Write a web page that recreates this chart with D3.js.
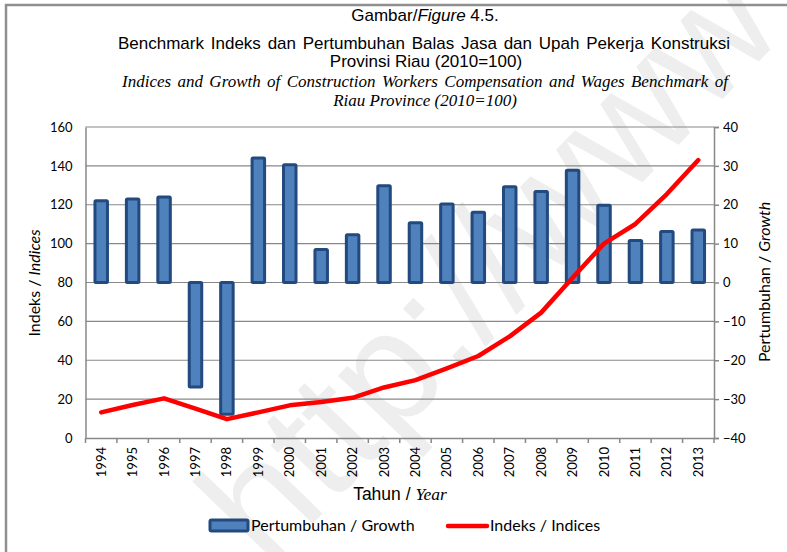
<!DOCTYPE html>
<html>
<head>
<meta charset="utf-8">
<script src="https://cdn.jsdelivr.net/npm/d3@7"></script>
<style>
  body { margin: 0; background: #fff; }
  svg { display: block; }
</style>
</head>
<body>
<svg id="chart" width="787" height="552"></svg>
<script>
// data
const years = ["1994","1995","1996","1997","1998","1999","2000","2001","2002","2003",
               "2004","2005","2006","2007","2008","2009","2010","2011","2012","2013"];
const growth = [21.0, 21.5, 22.0, -26.9, -33.9, 32.0, 30.3, 8.5, 12.3, 24.9,
                15.4, 20.2, 18.1, 24.6, 23.4, 28.9, 19.9, 10.8, 13.1, 13.5];
const indices = [13.2, 17.0, 20.4, 15.1, 9.7, 13.2, 16.8, 18.5, 20.7, 26.0,
                 29.8, 35.8, 42.2, 52.3, 64.5, 82.5, 100.0, 110.1, 125.5, 143.0];
const leftTicks = [0, 20, 40, 60, 80, 100, 120, 140, 160];
const rightTicks = [-40, -30, -20, -10, 0, 10, 20, 30, 40];

const sans = "Lato, 'Open Sans', sans-serif";
const arial = "'Liberation Sans', Arial, sans-serif";
const serif = "'Liberation Serif', 'Times New Roman', serif";

const svg = d3.select("#chart");
const plot = { left: 85.5, right: 714, top: 127, bottom: 438 };

// watermark (faint, behind everything)
svg.append("text")
    .attr("transform", "translate(268,570) rotate(-46)")
    .attr("font-family", arial)
    .attr("font-size", 160)
    .attr("fill", "#eeeeee")
    .text("http://www");

// outer frame
svg.append("rect")
    .attr("x", 6).attr("y", 5)
    .attr("width", 900).attr("height", 700)
    .attr("fill", "none")
    .attr("stroke", "#8f8f8f")
    .attr("stroke-width", 2.5);

// title
const title = svg.append("g").attr("font-family", arial).attr("font-size", 17)
    .attr("text-anchor", "middle").attr("fill", "#000");
const t1 = title.append("text").attr("x", 425).attr("y", 21);
t1.append("tspan").text("Gambar/");
t1.append("tspan").attr("font-style", "italic").text("Figure");
t1.append("tspan").text(" 4.5.");

function spreadWords(sel, target) {
    const w = sel.node().getComputedTextLength();
    const spaces = sel.text().split(" ").length - 1;
    if (w < target) sel.attr("word-spacing", (target - w) / spaces);
}
const t2 = title.append("text").attr("x", 424).attr("y", 49)
    .text("Benchmark Indeks dan Pertumbuhan Balas Jasa dan Upah Pekerja Konstruksi");
spreadWords(t2, 612);
title.append("text").attr("x", 426).attr("y", 67).text("Provinsi  Riau (2010=100)");
const t4 = title.append("text").attr("x", 425).attr("y", 87)
    .attr("font-family", serif).attr("font-style", "italic").attr("font-size", 17)
    .text("Indices and Growth of Construction Workers Compensation and Wages Benchmark of");
spreadWords(t4, 606);
title.append("text").attr("x", 425).attr("y", 106)
    .attr("font-family", serif).attr("font-style", "italic").attr("font-size", 17)
    .text("Riau Province (2010=100)");

// scales
const x = d3.scaleBand().domain(years).range([plot.left, plot.right]);
const yL = d3.scaleLinear().domain([0, 160]).range([plot.bottom, plot.top]);
const yR = d3.scaleLinear().domain([-40, 40]).range([plot.bottom, plot.top]);

// gridlines
svg.append("g").selectAll("line")
    .data(leftTicks.filter(d => d > 0))
    .join("line")
    .attr("x1", plot.left).attr("x2", plot.right)
    .attr("y1", d => yL(d)).attr("y2", d => yL(d))
    .attr("stroke", "#888").attr("stroke-width", 1.2);

// left axis
const axL = svg.append("g")
    .attr("transform", `translate(${plot.left},0)`)
    .call(d3.axisLeft(yL).tickValues(leftTicks).tickSize(0).tickPadding(13));
axL.select(".domain").attr("stroke", "#888").attr("stroke-width", 1.5);
axL.selectAll("text").attr("font-family", sans).attr("font-size", 13).attr("fill", "#000");

// right axis
const axR = svg.append("g")
    .attr("transform", `translate(${plot.right},0)`)
    .call(d3.axisRight(yR).tickValues(rightTicks).tickSize(5).tickPadding(4));
axR.select(".domain").attr("stroke", "#888").attr("stroke-width", 1.5);
axR.selectAll(".tick line").attr("stroke", "#888").attr("stroke-width", 1.5);
axR.selectAll("text").attr("font-family", sans).attr("font-size", 13).attr("fill", "#000");

// bottom axis: labels rotated, ticks between categories
const axB = svg.append("g")
    .attr("transform", `translate(0,${plot.bottom})`)
    .call(d3.axisBottom(x).tickSize(0).tickPadding(0));
axB.select(".domain").attr("stroke", "#888").attr("stroke-width", 1.5);
axB.selectAll("text")
    .attr("font-family", sans).attr("font-size", 13).attr("fill", "#000")
    .attr("transform", "rotate(-90)")
    .attr("text-anchor", "end")
    .attr("x", -9).attr("y", 0).attr("dy", "0.35em");
svg.append("g").selectAll("line")
    .data(d3.range(years.length + 1))
    .join("line")
    .attr("x1", i => plot.left + i * x.step()).attr("x2", i => plot.left + i * x.step())
    .attr("y1", plot.bottom).attr("y2", plot.bottom + 5)
    .attr("stroke", "#888").attr("stroke-width", 1.5);

// bars (growth, right axis)
const barW = 12.5;
svg.append("g").selectAll("rect")
    .data(growth)
    .join("rect")
    .attr("x", (d, i) => x(years[i]) + x.bandwidth() / 2 - barW / 2)
    .attr("width", barW)
    .attr("y", d => yR(Math.max(0, d)))
    .attr("height", d => Math.abs(yR(d) - yR(0)))
    .attr("fill", "#4f81bd")
    .attr("stroke", "#224a7e")
    .attr("stroke-width", 3)
    .attr("rx", 1);

// line (indices, left axis)
const line = d3.line()
    .x((d, i) => x(years[i]) + x.bandwidth() / 2)
    .y(d => yL(d));
svg.append("path")
    .datum(indices)
    .attr("d", line)
    .attr("fill", "none")
    .attr("stroke", "#ff0000")
    .attr("stroke-width", 4.5)
    .attr("stroke-linejoin", "round")
    .attr("stroke-linecap", "round");

// axis titles
const tl = svg.append("text")
    .attr("transform", "translate(40,283) rotate(-90)")
    .attr("text-anchor", "middle")
    .attr("font-family", sans).attr("font-size", 16);
tl.append("tspan").text("Indeks / ");
tl.append("tspan").attr("font-style", "italic").text("Indices");

const tr = svg.append("text")
    .attr("transform", "translate(770,282) rotate(-90)")
    .attr("text-anchor", "middle")
    .attr("font-family", sans).attr("font-size", 16);
tr.append("tspan").text("Pertumbuhan  / ");
tr.append("tspan").attr("font-style", "italic").text("Growth");

const tx = svg.append("text")
    .attr("x", 400).attr("y", 500)
    .attr("text-anchor", "middle")
    .attr("font-size", 17.5);
tx.append("tspan").attr("font-family", arial).text("Tahun / ");
tx.append("tspan").attr("font-family", serif).attr("font-style", "italic").text("Year");

// legend
const lg = svg.append("g").attr("font-family", sans).attr("font-size", 16);
lg.append("rect")
    .attr("x", 210).attr("y", 520).attr("width", 38).attr("height", 11)
    .attr("fill", "#4f81bd").attr("stroke", "#224a7e").attr("stroke-width", 3).attr("rx", 1.5);
lg.append("text").attr("x", 251).attr("y", 531).text("Pertumbuhan / Growth");
lg.append("line")
    .attr("x1", 448).attr("x2", 487).attr("y1", 526).attr("y2", 526)
    .attr("stroke", "#ff0000").attr("stroke-width", 4.5).attr("stroke-linecap", "round");
lg.append("text").attr("x", 490).attr("y", 531).text("Indeks / Indices");
</script>
</body>
</html>
